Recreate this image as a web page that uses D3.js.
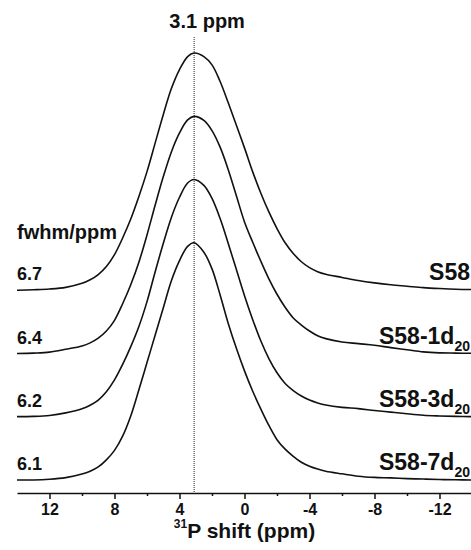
<!DOCTYPE html>
<html>
<head>
<meta charset="utf-8">
<script src="https://cdn.jsdelivr.net/npm/d3@7"></script>
<style>
  body { margin: 0; background: #fff; }
  svg text { font-family: "Liberation Sans", Arial, sans-serif; font-weight: bold; fill: #111; }
</style>
</head>
<body>
<svg id="chart" width="471" height="550"></svg>
<script>
// chemical shift grid (ppm)
const ppm = [14, 13, 12, 11, 10, 9.5, 9, 8.5, 8, 7.5, 7, 6.5, 6, 5.5, 5, 4.5, 4, 3.5, 3.1,
  2.5, 2, 1.5, 1, 0.5, 0, -0.5, -1, -1.5, -2, -2.5, -3, -3.5, -4, -4.5,
  -5, -6, -7, -8, -9, -10, -11, -12, -13, -14];

// normalised intensities (peak = 100)
const s58 = [0, 0.2, 0.5, 1.2, 2.9, 4.4, 6.6, 10, 15, 22, 30, 39.5, 50, 62, 74, 85, 93, 98.5, 100,
  98.5, 95, 88, 79, 69.5, 60, 50, 41, 33, 26, 20, 15.5, 12, 9.5, 7.8,
  6.7, 5.4, 4.1, 3.1, 2.3, 1.7, 1.1, 0.7, 0.4, 0.3];
const s58_1d = [0, 0.2, 0.6, 1.8, 3.2, 4.5, 6.5, 9.5, 14, 21, 29, 38.5, 50, 62.5, 74.5, 85, 93, 98.5, 100,
  98.3, 94, 87, 77.5, 66.5, 55.5, 47, 39, 31.5, 25, 19.5, 15, 12, 9.5, 7.5,
  6.3, 4.9, 4.2, 3.5, 2.5, 1.6, 0.7, 0.3, 0.2, 0.1];
const s58_3d = [0, 0.1, 0.5, 1.6, 3.3, 4.8, 7, 10.5, 15.5, 22, 29.5, 38, 48.5, 61, 73, 84, 92.5, 98.5, 100,
  97.5, 92, 83.5, 73, 62, 51, 41, 32, 24.5, 18.5, 14, 11, 8.7, 7, 5.8,
  4.9, 3.9, 3.4, 2.6, 1.9, 1.2, 0.6, 0.3, 0.1, 0];
const s58_7d = [0, 0, 0.3, 1.0, 2.5, 3.7, 5.5, 8.5, 12.5, 18.5, 27, 38, 49.5, 61, 72.5, 84, 92.5, 98.5, 100,
  96, 89, 78, 66, 55.5, 46, 37.5, 30, 23, 17, 13, 10, 7.5, 5.8, 4.6,
  3.7, 2.6, 1.6, 1.1, 0.9, 0.6, 0.4, 0.2, 0.1, 0];

const series = [s58, s58_1d, s58_3d, s58_7d];
const sampleNames = ["S58", "S58-1d", "S58-3d", "S58-7d"];
const sampleSubs = ["", "20", "20", "20"];
const fwhmLabels = ["6.7", "6.4", "6.2", "6.1"];
const offsets = [80, 53.3, 26.7, 0];   // stacking offset of each trace
const peakShift = 3.1;
const majorTicks = [12, 8, 4, 0, -4, -8, -12];
const minorTicks = [10, 6, 2, -2, -6, -10];

const svg = d3.select("#chart");
const axisY = 493;

const x = d3.scaleLinear([14, -14], [17, 472]);
const y = d3.scaleLinear([0, 180], [480, 53]);

const line = d3.line()
  .curve(d3.curveCatmullRom.alpha(0.5))
  .x(d => x(d[0]))
  .y(d => y(d[1]));

// dotted marker at the peak position
svg.append("line")
  .attr("x1", x(peakShift)).attr("x2", x(peakShift))
  .attr("y1", 37).attr("y2", axisY)
  .attr("stroke", "#222")
  .attr("stroke-width", 1)
  .attr("stroke-dasharray", "1,1");

svg.append("text")
  .attr("x", x(peakShift) + 13)
  .attr("y", 28)
  .attr("text-anchor", "middle")
  .style("font-size", "20px")
  .text(peakShift + " ppm");

// traces
svg.append("g")
  .selectAll("path")
  .data(series)
  .join("path")
  .attr("fill", "none")
  .attr("stroke", "#111")
  .attr("stroke-width", 1.6)
  .attr("d", (s, i) => line(ppm.map((p, j) => [p, s[j] + offsets[i]])));

// fwhm labels (left)
svg.append("text")
  .attr("x", 17).attr("y", 239)
  .style("font-size", "20px")
  .text("fwhm/ppm");

svg.append("g")
  .selectAll("text")
  .data(fwhmLabels)
  .join("text")
  .attr("x", 17)
  .attr("y", (d, i) => y(offsets[i]) - 10)
  .style("font-size", "18px")
  .text(d => d);

// sample labels (right)
const names = svg.append("g")
  .selectAll("text")
  .data(sampleNames)
  .join("text")
  .attr("x", 470)
  .attr("y", (d, i) => y(offsets[i]) - 10)
  .attr("text-anchor", "end")
  .style("font-size", "23px");
names.append("tspan").text(d => d);
names.append("tspan")
  .attr("dy", 7)
  .style("font-size", "14px")
  .text((d, i) => sampleSubs[i]);

// x axis
const gx = svg.append("g")
  .attr("transform", `translate(0,${axisY})`)
  .call(d3.axisBottom(x)
    .tickValues(majorTicks)
    .tickSize(6)
    .tickSizeOuter(0)
    .tickPadding(5)
    .tickFormat(d => String(d)));
gx.select(".domain").attr("stroke", "#111").attr("stroke-width", 1.5);
gx.selectAll(".tick line").attr("stroke", "#111").attr("stroke-width", 1.5);
gx.selectAll(".tick text").style("font-size", "16px").attr("fill", "#111");

const gm = svg.append("g")
  .attr("transform", `translate(0,${axisY})`)
  .call(d3.axisBottom(x)
    .tickValues(minorTicks)
    .tickSize(3)
    .tickFormat(""));
gm.select(".domain").remove();
gm.selectAll(".tick line").attr("stroke", "#111").attr("stroke-width", 1.5);

const title = svg.append("text")
  .attr("x", x(0))
  .attr("y", 538)
  .attr("text-anchor", "middle")
  .style("font-size", "21px");
title.append("tspan")
  .attr("dy", -10)
  .style("font-size", "12px")
  .text("31");
title.append("tspan")
  .attr("dy", 10)
  .text("P shift (ppm)");
</script>
</body>
</html>
